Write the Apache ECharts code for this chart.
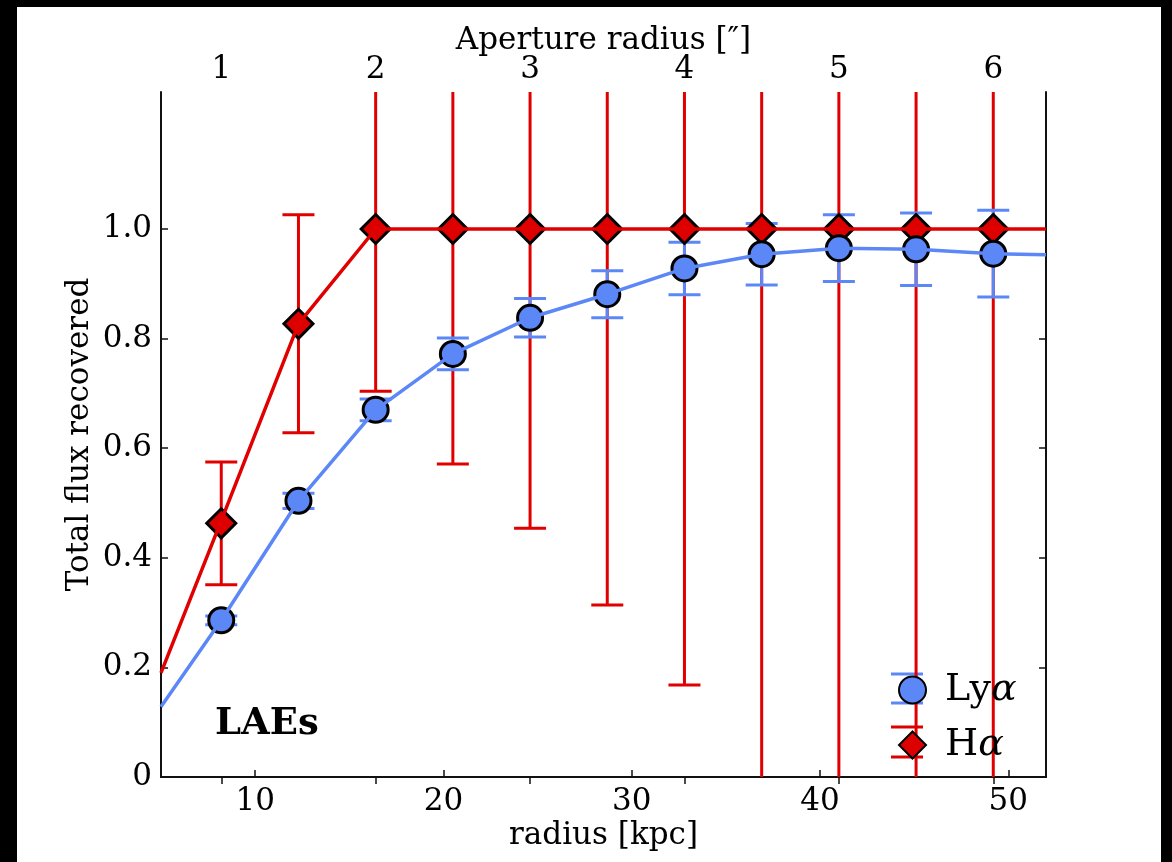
<!DOCTYPE html>
<html>
<head>
<meta charset="utf-8">
<script src="https://cdn.jsdelivr.net/npm/echarts@6/dist/echarts.min.js"></script>
<style>
  html, body { margin: 0; padding: 0; background: #000; width: 1172px; height: 862px; overflow: hidden; }
  #chart { position: absolute; left: 17px; top: 7px; width: 1144px; height: 855px; background: #fff; }
</style>
</head>
<body>
<div id="chart"></div>
<script>
// Aperture radius sample positions, converted to kpc
const radiusKpc = [8.2, 12.3, 16.4, 20.5, 24.6, 28.7, 32.8, 36.9, 41.0, 45.1, 49.2];

// Lyα measurements
const lyaFlux = [0.286, 0.504, 0.670, 0.772, 0.838, 0.881, 0.928, 0.954, 0.965, 0.963, 0.955];
const lyaErr  = [0.008, 0.014, 0.020, 0.029, 0.035, 0.043, 0.048, 0.056, 0.061, 0.066, 0.079];

// Hα measurements
const haFlux = [0.463, 0.827, 1.0, 1.0, 1.0, 1.0, 1.0, 1.0, 1.0, 1.0, 1.0];
const haErr  = [0.112, 0.199, 0.296, 0.429, 0.546, 0.686, 0.832, 1.05, 1.2, 1.35, 1.5];

// Connecting curves (span the whole axis range)
const curveX   = [5, 8.2, 12.3, 16.4, 20.5, 24.6, 28.7, 32.8, 36.9, 41.0, 45.1, 49.2, 52];
const lyaCurve = [0.128, 0.286, 0.504, 0.670, 0.772, 0.838, 0.881, 0.928, 0.954, 0.965, 0.963, 0.955, 0.953];
const haCurve  = [0.19, 0.468, 0.827, 1.0, 1.0, 1.0, 1.0, 1.0, 1.0, 1.0, 1.0, 1.0, 1.0];

// Axis ticks
const xTicks = [10, 20, 30, 40, 50];
const yTicks = [0, 0.2, 0.4, 0.6, 0.8, 1.0];
const topTicks = [1, 2, 3, 4, 5, 6];
const kpcPerArcsec = 8.2;
const xMin = 5, xMax = 52, yMin = 0, yMax = 1.25;

const BLUE = '#5b87f7';
const RED = '#dd0000';
const FONT = 'DejaVu Serif';

const zip = (xs, ys) => xs.map((x, i) => [x, ys[i]]);
const errData = (xs, ys, es) => xs.map((x, i) => [x, ys[i] - es[i], ys[i] + es[i]]);

function errorBars(color, capW) {
  return function (params, api) {
    const cs = params.coordSys;
    const x = api.value(0);
    const lo = api.coord([x, api.value(1)]);
    const hi = api.coord([x, api.value(2)]);
    const top = cs.y, bot = cs.y + cs.height;
    const yLo = Math.min(lo[1], bot);
    const yHi = Math.max(hi[1], top);
    const style = { stroke: color, lineWidth: 3 };
    const children = [{ type: 'line', shape: { x1: lo[0], y1: yLo, x2: lo[0], y2: yHi }, style }];
    if (lo[1] <= bot) children.push({ type: 'line', shape: { x1: lo[0] - capW / 2, y1: lo[1], x2: lo[0] + capW / 2, y2: lo[1] }, style });
    if (hi[1] >= top) children.push({ type: 'line', shape: { x1: hi[0] - capW / 2, y1: hi[1], x2: hi[0] + capW / 2, y2: hi[1] }, style });
    return { type: 'group', children };
  };
}

const axisLineStyle = { color: '#111', width: 2 };
const tickStyle = { color: '#111', width: 1.5 };
const labelStyle = { fontFamily: FONT, fontSize: 31, color: '#000' };

const chart = echarts.init(document.getElementById('chart'), null, { renderer: 'canvas' });
chart.setOption({
  backgroundColor: '#fff',
  animation: false,
  grid: { left: 144, top: 85, right: 115, bottom: 85, containLabel: false },
  xAxis: [
    {
      type: 'value', min: xMin, max: xMax, position: 'bottom',
      name: 'radius [kpc]', nameLocation: 'middle', nameGap: 43, nameMoveOverlap: false,
      nameTextStyle: { fontFamily: FONT, fontSize: 31, color: '#000' },
      axisLine: { show: true, lineStyle: axisLineStyle },
      axisTick: { show: true, inside: true, length: 7, lineStyle: tickStyle, customValues: xTicks },
      axisLabel: Object.assign({ margin: 9, customValues: xTicks }, labelStyle),
      splitLine: { show: false }
    },
    {
      type: 'value', min: xMin / kpcPerArcsec, max: xMax / kpcPerArcsec, position: 'top',
      name: 'Aperture radius [″]', nameLocation: 'middle', nameGap: 36, nameMoveOverlap: false,
      nameTextStyle: { fontFamily: FONT, fontSize: 31, color: '#000' },
      axisLine: { show: true, lineStyle: axisLineStyle },
      axisTick: { show: true, inside: true, length: 7, lineStyle: tickStyle, customValues: topTicks },
      axisLabel: Object.assign({ margin: 7, customValues: topTicks, formatter: v => String(Math.round(v)) }, labelStyle),
      splitLine: { show: false }
    }
  ],
  yAxis: [
    {
      type: 'value', min: yMin, max: yMax, position: 'left',
      name: 'Total flux recovered', nameLocation: 'middle', nameGap: 66, nameMoveOverlap: false,
      nameTextStyle: { fontFamily: FONT, fontSize: 31, color: '#000' },
      axisLine: { show: true, lineStyle: axisLineStyle },
      axisTick: { show: true, inside: true, length: 7, lineStyle: tickStyle, customValues: yTicks },
      axisLabel: Object.assign({ margin: 9, customValues: yTicks, formatter: v => v === 0 ? '0' : v.toFixed(1) }, labelStyle),
      splitLine: { show: false }
    },
    {
      type: 'value', min: yMin, max: yMax, position: 'right',
      axisLine: { show: true, lineStyle: axisLineStyle },
      axisTick: { show: true, inside: true, length: 7, lineStyle: tickStyle, customValues: yTicks },
      axisLabel: { show: false },
      splitLine: { show: false }
    }
  ],
  legend: {
    orient: 'vertical', left: 876, top: 659,
    itemWidth: 27, itemHeight: 27, itemGap: 17,
    data: [
      { name: 'Lyα', icon: 'circle' },
      { name: 'Hα', icon: 'diamond' }
    ],
    formatter: name => name.replace('α', '{a|α}'),
    textStyle: {
      fontFamily: FONT, fontSize: 38, color: '#000', lineHeight: 27, padding: [0, 0, 0, 14],
      rich: { a: { fontFamily: FONT, fontSize: 38, fontStyle: 'italic', color: '#000', lineHeight: 27 } }
    }
  },
  graphic: [
    { type: 'text', left: 198, top: 699, style: { text: 'LAEs', fontFamily: FONT, fontWeight: 'bold', fontSize: 37, fill: '#000' } },
    { type: 'line', shape: { x1: 874, y1: 667, x2: 906, y2: 667 }, style: { stroke: BLUE, lineWidth: 3 }, z: 1 },
    { type: 'line', shape: { x1: 874, y1: 696, x2: 906, y2: 696 }, style: { stroke: BLUE, lineWidth: 3 }, z: 1 },
    { type: 'line', shape: { x1: 874, y1: 720, x2: 906, y2: 720 }, style: { stroke: RED, lineWidth: 3 }, z: 1 },
    { type: 'line', shape: { x1: 874, y1: 750, x2: 906, y2: 750 }, style: { stroke: RED, lineWidth: 3 }, z: 1 }
  ],
  series: [
    {
      name: 'Hα curve', type: 'line', data: zip(curveX, haCurve), showSymbol: false,
      lineStyle: { color: '#e00000', width: 3.5 }, itemStyle: { color: '#e00000' }, silent: true
    },
    {
      name: 'Hα err', type: 'custom', data: errData(radiusKpc, haFlux, haErr),
      renderItem: errorBars('#e00000', 32), encode: { x: 0, y: [1, 2] }, silent: true
    },
    {
      name: 'Hα', type: 'scatter', data: zip(radiusKpc, haFlux), symbol: 'diamond', symbolSize: 29,
      itemStyle: { color: RED, borderColor: '#000', borderWidth: 3, opacity: 1 }
    },
    {
      name: 'Lyα curve', type: 'line', data: zip(curveX, lyaCurve), showSymbol: false,
      lineStyle: { color: BLUE, width: 3.5 }, itemStyle: { color: BLUE }, silent: true
    },
    {
      name: 'Lyα err', type: 'custom', data: errData(radiusKpc, lyaFlux, lyaErr),
      renderItem: errorBars(BLUE, 32), encode: { x: 0, y: [1, 2] }, silent: true
    },
    {
      name: 'Lyα', type: 'scatter', data: zip(radiusKpc, lyaFlux), symbol: 'circle', symbolSize: 25,
      itemStyle: { color: BLUE, borderColor: '#000', borderWidth: 3, opacity: 1 }
    }
  ]
});
</script>
</body>
</html>
